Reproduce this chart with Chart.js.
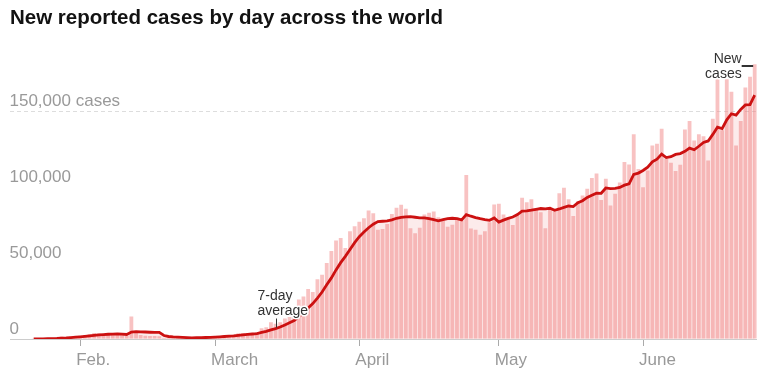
<!DOCTYPE html>
<html>
<head>
<meta charset="utf-8">
<script src="https://cdn.jsdelivr.net/npm/chart.js"></script>
<style>
  body { margin: 0; background: #fff; }
  #wrap { position: relative; width: 768px; height: 386px; }
  #wrap canvas { position: absolute; left: 0; top: 0; }
  h1 {
    position: absolute; left: 10px; top: 5px; margin: 0;
    font: bold 20.5px/24px "Liberation Sans", Arial, sans-serif;
    color: #121212; white-space: nowrap;
  }
</style>
</head>
<body>
<div id="wrap">
  <canvas id="cases-chart" width="768" height="386"></canvas>
  <h1>New reported cases by day across the world</h1>
</div>
<script>
// day 0 = Jan. 22, 2020, last day = June 25
const dailyCases = [
  500, 100, 290, 490, 680, 810, 1570, 1100, 1700, 2000,
  // Feb.
  2100, 2600, 3100, 3900, 3700, 3200, 3400, 2700, 3100, 2600, 2000, 14800, 5100, 2600, 2100,
  2000, 1900, 1750, 600, 600, 1000, 1000, 600, 700, 900, 1000, 1300, 1400, 1800,
  // March
  2000, 1800, 2300, 2300, 2800, 3800, 4000, 3900, 4000, 4500, 7000, 7800, 11000, 10000, 11000,
  13500, 14500, 17000, 26000, 28000, 33000, 31000, 39400, 42300, 50000, 58000, 64800, 66500,
  60000, 70900, 74200,
  // April
  77300, 79500, 84600, 82800, 72000, 72500, 75800, 82400, 86400, 88400, 85800, 72900, 69600,
  73200, 82000, 83200, 83900, 80200, 78000, 74000, 75300, 80000, 78000, 108000, 72700, 72000,
  68700, 71000, 76900, 88600,
  // May
  89000, 82000, 80000, 75000, 82000, 93000, 90000, 92000, 86000, 83500, 73000, 85000, 84000,
  96000, 99600, 92000, 81000, 90700, 94500, 99000, 106000, 109000, 91600, 105500, 88000, 95600,
  103000, 116500, 115000, 134800, 112000,
  // June
  100000, 111000, 127500, 128600, 138500, 118700, 116000, 110600, 114800, 137900, 143600,
  130800, 134800, 133500, 117600, 145000, 171000, 137400, 171000, 162800, 127500, 143600,
  165600, 172700, 181000
];

const sevenDayAverage = [
  70, 90, 130, 200, 290, 410, 630, 720, 950, 1190,
  1420, 1700, 2020, 2360, 2730, 2940, 3140, 3230, 3300, 3230, 2960, 4540, 4810, 4700, 4610,
  4460, 4360, 4320, 2290, 1650, 1420, 1260, 1060, 890, 770, 830, 930, 990, 1100,
  1300, 1460, 1660, 1840, 2060, 2400, 2710, 2990, 3300, 3610, 4290, 5000, 6030, 6890, 7900,
  9260, 10690, 12110, 14710, 17140, 20430, 23290, 26990, 30960, 35670, 40240, 45500, 50290,
  54430, 58930, 63490,
  67390, 70460, 73290, 75610, 77330, 77560, 77790, 78510, 79500, 80040, 80470, 80600, 80190,
  79810, 79760, 79300, 78660, 77860, 78590, 79210, 79510, 79230, 78490, 81930, 80860, 80000,
  79240, 78630, 78190, 79700,
  76990, 78310, 79460, 80360, 81930, 84230, 84430, 84860, 85430, 85930, 85640, 86070, 84790,
  85640, 86730, 87590, 87230, 89760, 91110, 93260, 94690, 96030, 95970, 99470, 99090, 99240,
  99810, 101310, 102170, 108340, 109270,
  110990, 113190, 116690, 118410, 121770, 119470, 120040, 121560, 122100, 123590, 125730,
  124630, 126930, 129430, 130430, 134740, 139470, 138590, 144330, 148330, 147470, 151190,
  154130, 154370, 160600
];

const monthTicks = [10, 39, 70, 100, 131];
const monthLabels = ['Feb.', 'March', 'April', 'May', 'June'];
const caseTicks = [0, 50000, 100000, 150000];
const caseTickLabels = ['0', '50,000', '100,000', '150,000 cases'];

const averageNoteDay = 52;
const fontFamily = '"Liberation Sans", Arial, sans-serif';

function haloText(ctx, text, x, y, align) {
  ctx.textAlign = align;
  ctx.lineWidth = 3;
  ctx.lineJoin = 'round';
  ctx.strokeStyle = '#fff';
  ctx.strokeText(text, x, y);
  ctx.fillText(text, x, y);
}

// the two little labels with leader lines
const notes = {
  id: 'notes',
  afterDatasetsDraw(chart) {
    const { ctx, scales: { x, y } } = chart;
    ctx.save();
    ctx.font = '14px ' + fontFamily;
    ctx.fillStyle = '#333';
    ctx.textBaseline = 'alphabetic';

    const ax = Math.round(x.getPixelForValue(averageNoteDay)) + 0.5;
    const ay = y.getPixelForValue(sevenDayAverage[averageNoteDay]);
    ctx.strokeStyle = '#333';
    ctx.lineWidth = 1;
    ctx.beginPath();
    ctx.moveTo(ax, ay - 10);
    ctx.lineTo(ax, ay - 1);
    ctx.stroke();
    haloText(ctx, '7-day', ax - 19, ay - 29, 'left');
    haloText(ctx, 'average', ax - 19, ay - 14, 'left');

    const last = dailyCases.length - 1;
    const nx = x.getPixelForValue(last);
    const ny = Math.round(y.getPixelForValue(dailyCases[last])) + 2;
    ctx.strokeStyle = '#333';
    ctx.lineWidth = 2;
    ctx.beginPath();
    ctx.moveTo(nx - 13, ny);
    ctx.lineTo(nx - 1.5, ny);
    ctx.stroke();
    haloText(ctx, 'New', nx - 13, ny - 3, 'right');
    haloText(ctx, 'cases', nx - 13, ny + 12, 'right');
    ctx.restore();
  }
};

new Chart(document.getElementById('cases-chart'), {
  type: 'bar',
  data: {
    datasets: [
      {
        type: 'line',
        label: '7-day average',
        data: sevenDayAverage.map((v, i) => ({ x: i, y: v })),
        borderColor: '#cc1111',
        borderWidth: 2.8,
        backgroundColor: 'rgba(230, 90, 90, 0.12)',
        fill: 'origin',
        pointRadius: 0,
        tension: 0,
        order: 0,
      },
      {
        label: 'New cases',
        data: dailyCases.map((v, i) => ({ x: i, y: v })),
        backgroundColor: 'rgba(242, 138, 138, 0.52)',
        barPercentage: 0.82,
        categoryPercentage: 1,
        order: 1,
      },
    ],
  },
  options: {
    responsive: false,
    animation: false,
    layout: { padding: { top: 50.5, bottom: 11.6, left: 9.5, right: 11 } },
    plugins: {
      legend: { display: false },
      tooltip: { enabled: false },
    },
    scales: {
      x: {
        type: 'linear',
        min: -5.2,
        max: 155.5,
        offset: false,
        afterBuildTicks: axis => { axis.ticks = monthTicks.map(v => ({ value: v })); },
        grid: { drawOnChartArea: false, tickLength: 7, tickColor: '#aaa', offset: false },
        border: { display: false },
        ticks: {
          autoSkip: false,
          maxRotation: 0,
          align: 'start',
          labelOffset: -4,
          padding: 4,
          color: '#999',
          font: { family: fontFamily, size: 17 },
          callback: v => monthLabels[monthTicks.indexOf(v)],
        },
      },
      y: {
        min: 0,
        max: 190000,
        afterBuildTicks: axis => { axis.ticks = caseTicks.map(v => ({ value: v })); },
        grid: {
          drawTicks: false,
          color: ctx => ctx.tick.value === 150000 ? '#dddddd' : (ctx.tick.value === 0 ? '#cccccc' : 'rgba(0,0,0,0)'),
        },
        border: {
          display: false,
          dash: ctx => (ctx.tick && ctx.tick.value === 150000) ? [4, 3] : [],
        },
        ticks: {
          mirror: true,
          padding: 0,
          labelOffset: -10,
          color: '#999',
          font: { family: fontFamily, size: 17 },
          callback: v => caseTickLabels[caseTicks.indexOf(v)],
        },
      },
    },
  },
  plugins: [notes],
});
</script>
</body>
</html>
